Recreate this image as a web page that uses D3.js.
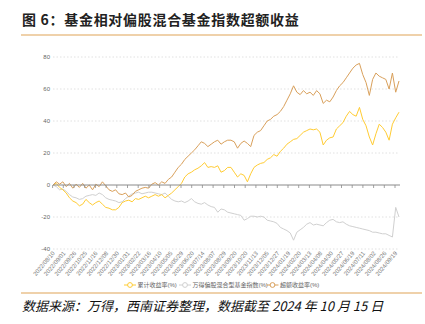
<!DOCTYPE html>
<html><head><meta charset="utf-8">
<script src="https://cdn.jsdelivr.net/npm/d3@7"></script>
<style>body{margin:0;background:#fff} svg{display:block}</style>
</head><body><svg id="c" width="425" height="324"></svg>
<script>
const titleText = "图 6：基金相对偏股混合基金指数超额收益";
const sourceText = "数据来源：万得，西南证券整理，数据截至 2024 年 10 月 15 日";
const seriesNames = ["累计收益率(%)", "万得偏股混合型基金指数(%)", "超额收益率(%)"];
const dateLabels = ["2022/08/10","2022/09/01","2022/09/26","2022/10/25","2022/11/16","2022/12/08","2022/12/30","2023/01/31","2023/02/22","2023/03/16","2023/04/10","2023/05/05","2023/05/29","2023/06/20","2023/07/14","2023/08/07","2023/08/29","2023/09/20","2023/10/20","2023/11/13","2023/12/05","2023/12/27","2024/01/19","2024/02/20","2024/03/13","2024/04/08","2024/04/30","2024/05/27","2024/06/19","2024/07/11","2024/08/02","2024/08/26","2024/09/19"];
const yTicks = [80, 60, 40, 20, 0, -20, -40];

const cumulative = [0,1,-1.5,-3,-5,-8,-10,-11,-13,-12,-9,-11,-12.5,-11,-10,-12,-14,-14.5,-15.5,-15.5,
 -14,-11,-10,-9.5,-10.5,-8.5,-9,-8,-7,-8,-7,-6,-7,-6,-8,-6.5,-5,-3,-1,1,
 5,7,8,9.5,10.5,12,14,11,11.5,11,12,8,9,11,11,8,5,7,6,2,
 7,11,12.5,13.5,14,16,17,19,18,21,23,25.5,27,28.5,29,31,33,34,35,34.5,
 35,33,25,28,29.5,30,35,37,39,43,46,44,43,48.5,41,37,30,25,32,38,
 36,33,28,38,42,45.5];
const fundIndex = [0,-1,-3,-2.5,-4,-6,-7.5,-8,-9,-8.5,-7,-6.5,-6,-6.5,-5,-6,-8,-9,-9.5,-10,
 -11,-10.5,-8.5,-7,-5.5,-5,-4.5,-5.5,-5,-4.5,-4.5,-5,-5.5,-6,-5,-7,-9,-10,-10.5,-10,
 -11,-10,-8.5,-10.5,-11.5,-12,-11,-12.5,-13.5,-14,-17,-15,-15.5,-17,-17.5,-18,-18.5,-19,-22,-21,
 -19.5,-19.5,-20,-19.5,-20,-22,-22.5,-23,-24,-26.5,-27.5,-28.5,-30,-34.5,-29.5,-28,-26.5,-24.5,-23.5,-25,
 -24.5,-25,-25.5,-23.5,-22,-21.5,-23,-23.5,-23,-24.5,-25.5,-26,-26.5,-27,-27.5,-28,-28.5,-29.5,-29.5,-30,
 -30.5,-30.5,-31.5,-32.5,-14,-20];
const excess = [0,2,0.5,2,-1,1,-2,0.5,-1.5,1,-2,0,-3,0.5,-1,2,-0.5,-3,-4,-3,
 -5.5,-6,-5,-7.5,-6.5,-4,-3,-2,-1.5,-2,0.5,1.5,0,2,1,3.5,5,8,11,13,
 16,18,20,22,24.5,27,26,24,25.5,27,28,25.5,27,28,28,27,23,26,27.5,26,
 24,31,33,34,37,40,41,43,44,46,49,53,57,62,58,56.5,59,57,58,56,
 59,57,51,53,52,55,59,62,64,67,70,73,75,76,69,64,56,66,70,68,
 67,66,60,70,58,65];

const svg = d3.select("#c");
const F = "'Liberation Sans','Noto Sans CJK SC',sans-serif";

// title
svg.append("text").attr("x", 22).attr("y", 25).attr("font-family", "'Noto Sans CJK SC',sans-serif")
  .attr("font-weight", "bold").attr("font-size", 14).attr("letter-spacing", 0.7).attr("fill", "#222").text(titleText);
svg.append("line").attr("x1", 21).attr("x2", 422).attr("y1", 35).attr("y2", 35).attr("stroke", "#DFA457").attr("stroke-width", 1.2);
svg.append("line").attr("x1", 21).attr("x2", 422).attr("y1", 293).attr("y2", 293).attr("stroke", "#DFA457").attr("stroke-width", 1.2);
svg.append("text").attr("x", 22).attr("y", 311).attr("font-family", "'Noto Sans CJK SC',sans-serif")
  .attr("font-style", "italic").attr("font-size", 13).attr("fill", "#111").text(sourceText);

const n = cumulative.length;
const x = d3.scaleLinear().domain([0, n - 1]).range([53, 399]);
const y = d3.scaleLinear().domain([-40, 80]).range([249, 57]);
const xl = d3.scaleLinear().domain([0, dateLabels.length - 1]).range([52.6, 395]);

// grid
svg.append("g").selectAll("line").data(yTicks.filter(d => d !== 0)).join("line")
  .attr("x1", 53).attr("x2", 399).attr("y1", d => y(d)).attr("y2", d => y(d))
  .attr("stroke", "#d9d9d9").attr("stroke-width", 0.8).attr("stroke-dasharray", "1.5,2");
svg.append("g").selectAll("text").data(yTicks).join("text")
  .attr("x", 50).attr("y", d => y(d)).attr("dy", "0.35em").attr("text-anchor", "end")
  .attr("font-family", F).attr("font-size", 6).attr("fill", "#666").text(d => d);

// date labels
svg.append("g").selectAll("text").data(dateLabels).join("text")
  .attr("transform", (d, i) => `translate(${xl(i) + 1},252) rotate(-50)`)
  .attr("text-anchor", "end").attr("dy", "0.35em")
  .attr("font-family", F).attr("font-size", 6).attr("fill", "#777").text(d => d);

// lines
const line = arr => d3.line().x((d, i) => x(i)).y(d => y(d))(arr);
const colors = ["#FFCC33", "#D0D0D0", "#D9A05B"];
svg.append("path").attr("d", line(fundIndex)).attr("fill", "none").attr("stroke", colors[1]).attr("stroke-width", 1);
svg.append("path").attr("d", line(cumulative)).attr("fill", "none").attr("stroke", colors[0]).attr("stroke-width", 1);
svg.append("path").attr("d", line(excess)).attr("fill", "none").attr("stroke", colors[2]).attr("stroke-width", 1);

// zero axis
svg.append("line").attr("x1", 53).attr("x2", 400).attr("y1", y(0)).attr("y2", y(0)).attr("stroke", "#8a8a8a").attr("stroke-width", 1);
svg.append("g").selectAll("line").data(dateLabels).join("line")
  .attr("x1", (d, i) => xl(i)).attr("x2", (d, i) => xl(i)).attr("y1", y(0)).attr("y2", y(0) + 3)
  .attr("stroke", "#8a8a8a").attr("stroke-width", 0.8);

// legend
const legX = [130, 185, 272.5];
const lg = svg.append("g").selectAll("g").data(seriesNames).join("g")
  .attr("transform", (d, i) => `translate(${legX[i]},285)`);
lg.append("line").attr("x1", -6).attr("x2", 6).attr("stroke", (d, i) => colors[i]).attr("stroke-width", 1);
lg.append("circle").attr("r", 2.4).attr("fill", "#fff").attr("stroke", (d, i) => colors[i]).attr("stroke-width", 1);
lg.append("text").attr("x", 7.5).attr("dy", "0.35em").attr("font-family", F).attr("font-size", 6)
  .attr("fill", "#666").text(d => d);
</script></body></html>
